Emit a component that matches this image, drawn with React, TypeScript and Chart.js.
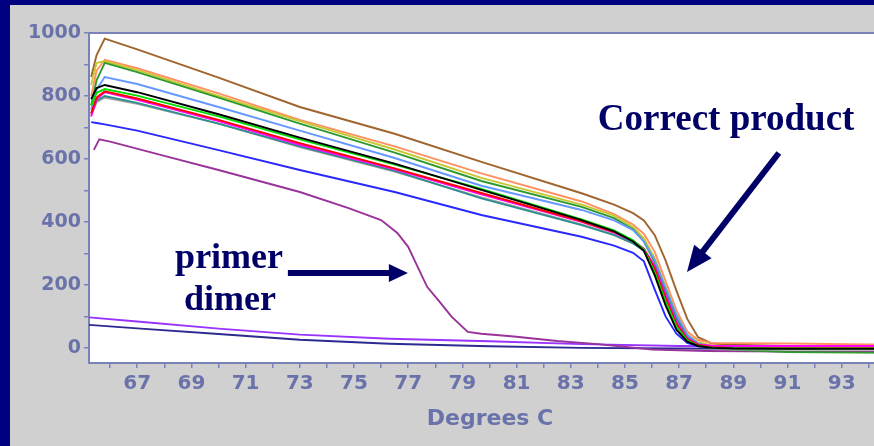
import React, { useEffect, useRef } from 'react';
import { Chart, registerables } from 'chart.js';

Chart.register(...registerables);

// ---- data ----
const meltTemps = [65.3, 65.5, 65.8, 67, 70, 73, 76.5, 79.7, 83.4, 84.6, 85.3, 85.7, 86.1, 86.5, 86.9, 87.3, 87.7, 88.2, 89, 91, 94.8];
const brownSeries = [860, 930, 982, 948, 858, 765, 680, 591, 491, 455, 428, 405, 358, 278, 182, 92, 34, 14, 10, 6, 4];
const orangeSeries = [800, 880, 915, 888, 808, 724, 640, 554, 465, 425, 392, 362, 305, 212, 120, 52, 25, 16, 15, 14, 10];
const oliveSeries = [835, 905, 910, 882, 800, 720, 630, 540, 455, 420, 384, 348, 285, 195, 105, 42, 18, 8, 5, 3, 2];
const darkGreenSeries = [770, 850, 905, 876, 795, 712, 620, 530, 448, 412, 377, 338, 272, 178, 92, 34, 9, 0, -6, -13, -16];
const lightBlueSeries = [756, 820, 860, 838, 765, 690, 603, 515, 438, 405, 374, 338, 278, 190, 105, 42, 13, 5, 3, 2, 1];
const blackSeries = [790, 825, 835, 812, 742, 668, 585, 502, 406, 370, 338, 308, 230, 135, 58, 20, 6, 0, -2, -3, -3];
const greenSeries = [770, 810, 822, 801, 735, 662, 582, 505, 408, 373, 342, 312, 240, 148, 68, 24, 7, 0, -1, -2, -2];
const redSeries = [745, 795, 815, 792, 724, 650, 570, 492, 402, 368, 340, 314, 250, 158, 75, 27, 9, 2, 0, 0, 0];
const magentaSeries = [735, 790, 812, 788, 720, 645, 567, 488, 400, 366, 339, 315, 258, 168, 82, 30, 11, 7, 6, 6, 6];
const graySeries = [740, 780, 795, 775, 712, 638, 560, 478, 392, 360, 332, 308, 248, 160, 76, 27, 9, 0, -5, -5, -5];
const tealSeries = [745, 785, 800, 778, 712, 640, 562, 475, 390, 358, 332, 310, 262, 178, 92, 34, 12, 3, 1, 0, 0];
const blueSeries = [717, 714, 710, 690, 628, 565, 495, 422, 353, 325, 302, 275, 185, 100, 45, 16, 5, 2, 0, 0, 0];

const dimerTemps = [65.4, 65.6, 66, 68, 70, 73, 74.8, 76, 76.6, 77, 77.35, 77.7, 78.2, 78.6, 79.2, 79.7, 80.9, 82.5, 84, 86, 88, 91, 94.8];
const dimerSeries = [629, 662, 655, 610, 565, 495, 444, 406, 365, 321, 257, 194, 142, 99, 51, 45, 36, 22, 12, -5, -10, -12, -12];

const baseTemps = [65.22, 67, 70, 73, 76.3, 80, 83.4, 87, 90, 94.8];
const violetSeries = [97, 84, 61, 42, 29, 21, 12, 6, 4, 3];
const navySeries = [73, 62, 44, 26, 13, 5, 0, -2, -3, -4];

const xTickValues = [66, 67, 68, 69, 70, 71, 72, 73, 74, 75, 76, 77, 78, 79, 80, 81, 82, 83, 84, 85, 86, 87, 88, 89, 90, 91, 92, 93, 94];
const xTickLabels = ['67', '69', '71', '73', '75', '77', '79', '81', '83', '85', '87', '89', '91', '93'];
const yTickValues = [0, 100, 200, 300, 400, 500, 600, 700, 800, 900, 1000];
const yTickLabels = ['0', '200', '400', '600', '800', '1000'];

const AXIS_TEXT = '#6a72aa';
const AXIS_LINE = '#7b82b8';
const NAVY = '#000080';
const NOTE = '#000066';

function arrow(ctx: CanvasRenderingContext2D, x1: number, y1: number, x2: number, y2: number, w: number, hl: number, hw: number) {
  const ang = Math.atan2(y2 - y1, x2 - x1);
  const bx = x2 - hl * Math.cos(ang);
  const by = y2 - hl * Math.sin(ang);
  ctx.lineWidth = w;
  ctx.lineCap = 'butt';
  ctx.beginPath();
  ctx.moveTo(x1, y1);
  ctx.lineTo(bx + Math.cos(ang), by + Math.sin(ang));
  ctx.stroke();
  const px = -Math.sin(ang);
  const py = Math.cos(ang);
  ctx.beginPath();
  ctx.moveTo(x2, y2);
  ctx.lineTo(bx + px * hw, by + py * hw);
  ctx.lineTo(bx - px * hw, by - py * hw);
  ctx.closePath();
  ctx.fill();
}

const deco = {
  id: 'deco',
  beforeDraw(chart: any) {
    const { ctx, chartArea: a, width, height } = chart;
    ctx.save();
    ctx.fillStyle = '#d0d0d0';
    ctx.fillRect(0, 0, width, height);
    ctx.fillStyle = '#ffffff';
    ctx.fillRect(a.left, a.top, a.right - a.left, a.bottom - a.top);
    ctx.restore();
  },
  afterDraw(chart: any) {
    const { ctx, chartArea: a, width, height, scales } = chart;
    const X = (v: number) => scales.x.getPixelForValue(v);
    const Y = (v: number) => scales.y.getPixelForValue(v);
    ctx.save();
    // top border of plot
    ctx.strokeStyle = AXIS_LINE;
    ctx.lineWidth = 2;
    ctx.beginPath();
    ctx.moveTo(a.left, a.top);
    ctx.lineTo(a.right, a.top);
    ctx.stroke();

    // annotations
    ctx.fillStyle = NOTE;
    ctx.strokeStyle = NOTE;
    ctx.font = 'bold 37px "Liberation Serif", "Times New Roman", serif';
    ctx.textBaseline = 'alphabetic';
    ctx.textAlign = 'left';
    ctx.fillText('Correct product', X(84.0), Y(692));
    ctx.font = 'bold 36px "Liberation Serif", "Times New Roman", serif';
    ctx.textAlign = 'center';
    ctx.fillText('primer', X(70.39), Y(254));
    ctx.fillText('dimer', X(70.42), Y(121));
    arrow(ctx, X(72.56), Y(238), X(76.99), Y(238), 6, 19, 9);
    arrow(ctx, X(90.68), Y(619), X(87.29), Y(241), 6, 26, 11);

    // navy frame
    ctx.fillStyle = NAVY;
    ctx.fillRect(0, 0, 10, height);
    ctx.fillRect(0, 0, width, 5);
    ctx.restore();
  },
};

function series(xs: number[], ys: number[]) {
  return xs.map((x, i) => ({ x, y: ys[i] }));
}

export default function App() {
  const ref = useRef<HTMLCanvasElement>(null);
  useEffect(() => {
    const canvas = ref.current!;
    const ds = (xs: number[], ys: number[], color: string, w = 1.9) => ({
      data: series(xs, ys),
      borderColor: color,
      backgroundColor: color,
      borderWidth: w,
      pointRadius: 0,
      fill: false,
      tension: 0,
    });
    const datasets = [
      ds(meltTemps, blackSeries, '#000000'),
      ds(meltTemps, greenSeries, '#00dd00'),
      ds(meltTemps, redSeries, '#ff0000'),
      ds(meltTemps, magentaSeries, '#ff00ff'),
      ds(meltTemps, tealSeries, '#2e8f8f'),
      ds(meltTemps, graySeries, '#a0a0a0'),
      ds(meltTemps, lightBlueSeries, '#6699ff'),
      ds(meltTemps, darkGreenSeries, '#2e9a2e'),
      ds(meltTemps, oliveSeries, '#c8c832'),
      ds(meltTemps, orangeSeries, '#ff9060'),
      ds(meltTemps, brownSeries, '#a0642d'),
      ds(meltTemps, blueSeries, '#2828ff'),
      ds(dimerTemps, dimerSeries, '#993399'),
      ds(baseTemps, violetSeries, '#9933ff'),
      ds(baseTemps, navySeries, '#2a2a90'),
    ];
    const tickFont = { family: 'DejaVu Sans', weight: 'bold' as const, size: 20 };
    const chart = new Chart(canvas, {
      type: 'line',
      data: { datasets },
      options: {
        animation: false,
        responsive: false,
        devicePixelRatio: 1,
        layout: { padding: { top: 33, left: -6, right: 0, bottom: 0 } },
        plugins: { legend: { display: false }, tooltip: { enabled: false } },
        scales: {
          x: {
            type: 'linear',
            min: 65.22,
            max: 94.82,
            afterBuildTicks: (s: any) => {
              s.ticks = xTickValues.map((v) => ({ value: v }));
            },
            afterFit: (s: any) => {
              s.height = 83;
            },
            ticks: {
              callback: (v: any) => (xTickLabels.includes(String(v)) ? String(v) : ''),
              font: tickFont,
              color: AXIS_TEXT,
              padding: 4,
              autoSkip: false,
              maxRotation: 0,
              minRotation: 0,
            },
            grid: { display: true, drawOnChartArea: false, drawTicks: true, tickLength: 5, color: AXIS_LINE, lineWidth: 1.5 },
            border: { display: true, color: AXIS_LINE, width: 2 },
            title: {
              display: true,
              text: 'Degrees C',
              font: { family: 'DejaVu Sans', weight: 'bold', size: 22 },
              color: AXIS_TEXT,
              padding: { top: 0, bottom: 14 },
            },
          },
          y: {
            type: 'linear',
            min: -48,
            max: 1000,
            afterBuildTicks: (s: any) => {
              s.ticks = yTickValues.map((v) => ({ value: v }));
            },
            afterFit: (s: any) => {
              s.width = 95;
            },
            ticks: {
              callback: (v: any) => (yTickLabels.includes(String(v)) ? String(v) : ''),
              font: { family: 'DejaVu Sans', weight: 'bold', size: 19 },
              color: AXIS_TEXT,
              padding: 3,
              autoSkip: false,
            },
            grid: { display: true, drawOnChartArea: false, drawTicks: true, tickLength: 5, color: AXIS_LINE, lineWidth: 1.5 },
            border: { display: true, color: AXIS_LINE, width: 2 },
            title: {
              display: true,
              text: 'Fluorescence',
              font: { family: 'DejaVu Sans', weight: 'bold', size: 19 },
              color: AXIS_TEXT,
              padding: 0,
            },
          },
        },
      },
      plugins: [deco],
    });
    return () => chart.destroy();
  }, []);
  return (
    <div style={{ position: 'absolute', left: 0, top: 0, width: 874, height: 446, overflow: 'hidden' }}>
      <canvas ref={ref} width={891} height={446} style={{ display: 'block' }} />
    </div>
  );
}
